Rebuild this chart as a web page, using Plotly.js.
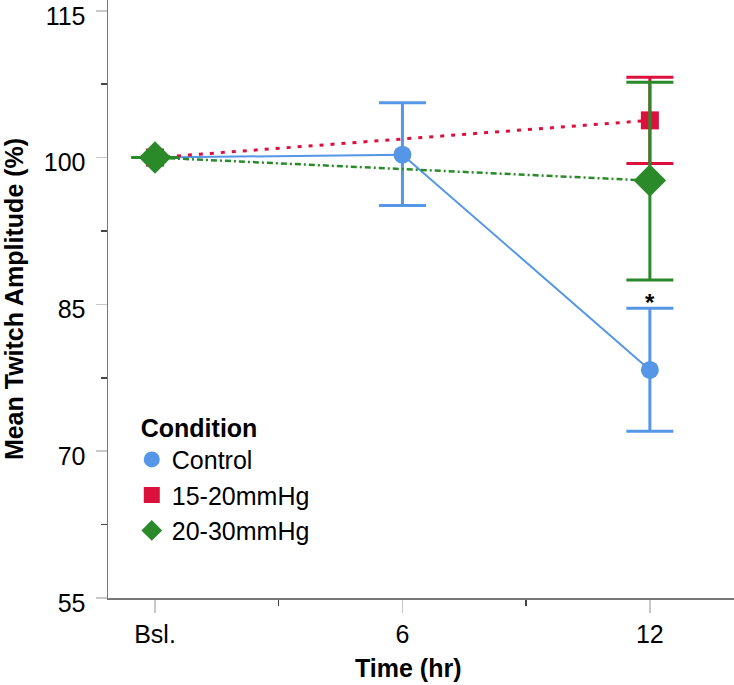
<!DOCTYPE html>
<html>
<head>
<meta charset="utf-8">
<script src="https://cdn.plot.ly/plotly-3.0.1.min.js"></script>
<style>html,body{margin:0;padding:0;background:#fff;}#chart{width:734px;height:685px;}</style>
</head>
<body>
<div id="chart"></div>
<script>
// ---- data ----
const timeLabels = ['Bsl.', '6', '12'];
const timePos = [0, 1, 2];

const controlX = [0, 1, 2];
const controlMean = [100, 100.3, 78.3];
const controlUpper = [100, 105.6, 84.6];
const controlLower = [100, 95.1, 72.05];

const lowX = [0, 2];               // 15-20mmHg
const lowMean = [100, 103.8];
const lowUpper = [100, 108.2];
const lowLower = [100, 99.4];

const highX = [0, 2];              // 20-30mmHg
const highMean = [100, 97.65];
const highUpper = [100, 107.7];
const highLower = [100, 87.5];

const seriesNames = ['Control', '15-20mmHg', '20-30mmHg'];
const sigMarkX = 2, sigMarkY = 85.8;

// ---- styling ----
const BLUE = '#5596E6', RED = '#DC103C', GREEN = '#2A8A2A';
const FONT = 'Liberation Sans, Arial, sans-serif';

function errs(mean, up, lo) {
  return {
    plus: mean.map((m, i) => up[i] - m),
    minus: mean.map((m, i) => m - lo[i])
  };
}
function series(x, mean, up, lo, name, color, symbol, size, dash, lw) {
  const e = errs(mean, up, lo);
  return {
    x: x, y: mean, name: name, type: 'scatter', mode: 'lines+markers',
    showlegend: false,
    line: {color: color, width: lw, dash: dash},
    marker: {color: color, symbol: symbol, size: size},
    error_y: {type: 'data', symmetric: false, array: e.plus, arrayminus: e.minus,
              color: color, thickness: 3, width: 23.5}
  };
}
function legendItem(name, color, symbol, size) {
  return {x: [null], y: [null], name: name, type: 'scatter', mode: 'markers',
          marker: {color: color, symbol: symbol, size: size}, showlegend: true};
}

const data = [
  series(controlX, controlMean, controlUpper, controlLower, seriesNames[0], BLUE, 'circle', 18, 'solid', 2),
  series(lowX, lowMean, lowUpper, lowLower, seriesNames[1], RED, 'square', 18, '4px,7px', 3),
  series(highX, highMean, highUpper, highLower, seriesNames[2], GREEN, 'diamond', 25, '6px,3px,2px,3px', 2.5),
  legendItem(seriesNames[0], BLUE, 'circle', 18),
  legendItem(seriesNames[1], RED, 'square', 16),
  legendItem(seriesNames[2], GREEN, 'diamond', 22)
];

const PLOT_H = 685 - 86.5;
function pxToPaperY(py) { return (PLOT_H - py) / PLOT_H; }

const layout = {
  width: 734, height: 685,
  margin: {l: 108, r: 0, t: 0, b: 86.5},
  paper_bgcolor: '#fff', plot_bgcolor: '#fff',
  font: {family: FONT, color: '#000'},
  showlegend: true,
  legend: {
    x: 0.038, y: 0.075, xanchor: 'left', yanchor: 'bottom',
    bgcolor: 'rgba(0,0,0,0)', font: {size: 25, family: FONT},
    title: {text: '\u00a0<b>Condition</b>', font: {size: 25, family: FONT}, side: 'top'},
    tracegroupgap: 0
  },
  xaxis: {
    range: [-0.19, 2.34], tickmode: 'array', tickvals: timePos, ticktext: timeLabels,
    showline: true, linecolor: '#777', linewidth: 1.5, zeroline: false, showgrid: false,
    ticks: 'outside', ticklen: 13, tickwidth: 1.5, tickcolor: '#c8c8c8',
    tickfont: {size: 25, family: FONT},
    minor: {tickmode: 'linear', tick0: 0.5, dtick: 1, ticks: 'outside', ticklen: 6, tickwidth: 1.5, tickcolor: '#444'}
  },
  yaxis: {
    range: [55, 116.1], tickmode: 'linear', tick0: 55, dtick: 15,
    showline: true, linecolor: '#777', linewidth: 1.5, zeroline: false, showgrid: false,
    ticks: 'outside', ticklen: 11, tickwidth: 1.5, tickcolor: '#c8c8c8',
    tickfont: {size: 25, family: FONT}, ticklabeloverflow: 'allow',
    ticklabelstandoff: 5, ticklabelshift: 5,
    minor: {tickmode: 'linear', tick0: 55, dtick: 7.5, ticks: 'outside', ticklen: 6, tickwidth: 1.5, tickcolor: '#444'},
    title: {text: '<b>Mean Twitch Amplitude (%)</b>', font: {size: 25, family: FONT}, standoff: 18}
  },
  annotations: [{
    x: sigMarkX, y: sigMarkY, xref: 'x', yref: 'y', text: '<b>*</b>', showarrow: false,
    font: {size: 24, family: FONT, color: '#000'}, yshift: -6
  }, {
    x: (408 - 108) / 626, y: pxToPaperY(669), xref: 'paper', yref: 'paper',
    xanchor: 'center', yanchor: 'middle', showarrow: false,
    text: '<b>Time (hr)</b>', font: {size: 25, family: FONT, color: '#000'}
  }]
};

Plotly.newPlot('chart', data, layout, {displayModeBar: false, staticPlot: true});
</script>
</body>
</html>
